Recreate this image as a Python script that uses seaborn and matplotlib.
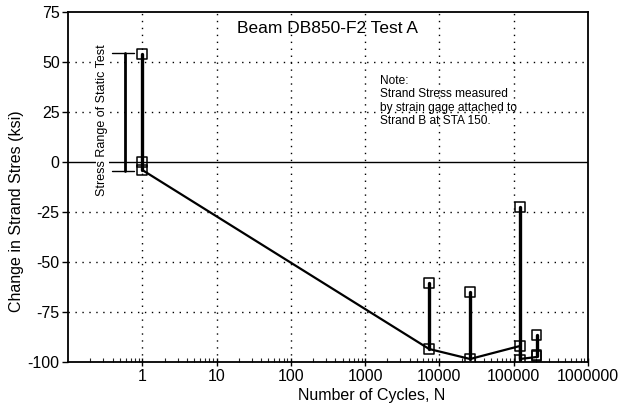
import numpy as np
import pandas as pd
import matplotlib
matplotlib.use("Agg")
import matplotlib.pyplot as plt
import seaborn as sns

# ---- data ----
range_cycles = [1, 7300, 26000, 122000, 205000]
range_max = [54, -60.5, -65, -22.5, -86.5]
range_min = [-4, -93.5, -98.5, -99, -97]

path_cycles = [1, 7300, 26000, 122000, 122000, 205000]
path_stress = [-4, -93.5, -98.5, -92, -98.5, -97.5]

extra_cycles = [1, 122000, 205000]
extra_stress = [0, -92, -96.5]

static_range = [54.5, -4.5]
static_x = 0.59

x_ticks = [1, 10, 100, 1000, 10000, 100000, 1000000]
x_ticklabels = ["1", "10", "100", "1000", "10000", "100000", "1000000"]
y_ticks = [-100, -75, -50, -25, 0, 25, 50, 75]

sns.set_theme(style="white")
plt.rcParams["font.family"] = ["Liberation Sans", "DejaVu Sans"]
plt.rcParams["axes.unicode_minus"] = False

fig = plt.figure(figsize=(6.3, 4.07), dpi=100)
ax = fig.add_axes([0.108, 0.1106, 0.825, 0.8599])
ax.set_xscale("log")
ax.set_xlim(0.1, 1e6)
ax.set_ylim(-100, 75)

# grid
for xv in x_ticks[:-1]:
    ax.axvline(xv, color="black", ls=(0, (1, 4)), lw=1.0, zorder=1)
for yv in [-75, -50, -25, 25, 50]:
    ax.axhline(yv, color="black", ls=(0, (1, 4)), lw=1.0, zorder=1)
ax.axhline(0, color="black", lw=1.0, zorder=1)

# stress range vertical segments
seg_rows = []
for i, (c, hi, lo) in enumerate(zip(range_cycles, range_max, range_min)):
    seg_rows.append({"cycles": c, "stress": hi, "seg": i})
    seg_rows.append({"cycles": c, "stress": lo, "seg": i})
seg_df = pd.DataFrame(seg_rows)
sns.lineplot(data=seg_df, x="cycles", y="stress", units="seg", estimator=None,
             color="black", lw=2.4, sort=False, ax=ax, zorder=3)

# connecting path of minimum stress
path_df = pd.DataFrame({"cycles": path_cycles, "stress": path_stress})
sns.lineplot(data=path_df, x="cycles", y="stress", estimator=None, sort=False,
             color="black", lw=1.6, ax=ax, zorder=3)

# square markers
mk_df = pd.DataFrame({
    "cycles": range_cycles + range_cycles + extra_cycles,
    "stress": range_max + range_min + extra_stress,
})
sns.scatterplot(data=mk_df, x="cycles", y="stress", marker="s", s=48,
                facecolor="none", edgecolor="black", linewidth=1.1, ax=ax, zorder=4)

# static test range annotation
ax.plot([static_x, static_x], static_range, color="black", lw=2.0, zorder=3)
ax.plot([0.39, 0.78], [static_range[0]] * 2, color="black", lw=1.0, zorder=3)
ax.plot([0.39, 0.78], [static_range[1]] * 2, color="black", lw=1.0, zorder=3)
ax.text(0.29, 21, "Stress Range of Static Test", rotation=90, ha="center",
        va="center", fontsize=9, color="black", zorder=5,
        bbox=dict(facecolor="white", edgecolor="none", pad=0.5))

# title and note
ax.text(0.5, 0.953, "Beam DB850-F2 Test A", transform=ax.transAxes,
        ha="center", va="center", fontsize=12.5, color="black")
ax.text(1600, 43.5, "Note:\nStrand Stress measured\nby strain gage attached to\nStrand B at STA 150.",
        ha="left", va="top", fontsize=8.6, color="black", linespacing=1.15)

ax.set_xticks(x_ticks)
ax.set_xticklabels(x_ticklabels)
ax.set_yticks(y_ticks)
ax.tick_params(axis="x", which="major", direction="inout", length=6, width=1,
               labelsize=11.5, colors="black", pad=2, bottom=True)
ax.tick_params(axis="x", which="minor", direction="in", length=3, width=0.8,
               bottom=True)
ax.tick_params(axis="y", which="major", direction="out", length=4, width=1,
               labelsize=11.5, colors="black", left=True, pad=2)
ax.set_xlabel("Number of Cycles, N", fontsize=11.5, color="black")
ax.set_ylabel("Change in Strand Stres (ksi)", fontsize=11.5, color="black")
ax.xaxis.set_label_coords(0.585, -0.075)
ax.yaxis.set_label_coords(-0.085, 0.43)

for s in ax.spines.values():
    s.set_color("black")
    s.set_linewidth(1.3)
    s.set_visible(True)

fig.savefig("out.png", dpi=100)
